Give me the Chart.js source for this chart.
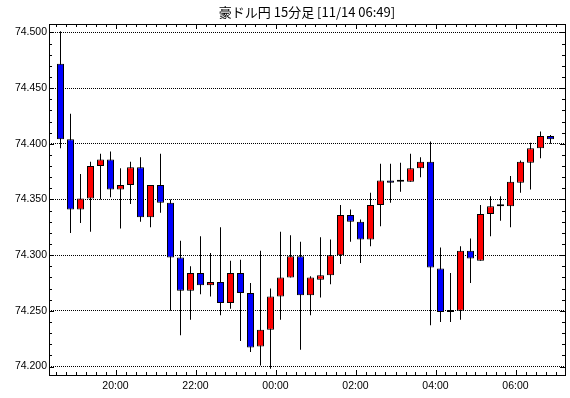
<!DOCTYPE html>
<html><head><meta charset="utf-8">
<script src="https://cdn.jsdelivr.net/npm/chart.js@4"></script>
<style>html,body{margin:0;padding:0;background:#fff;}</style>
</head><body>
<canvas id="c" width="570" height="398"></canvas>
<script>
const chartTitle = '豪ドル円 15分足 [11/14 06:49]';
const times = ['18:30','18:45','19:00','19:15','19:30','19:45','20:00','20:15','20:30','20:45',
  '21:00','21:15','21:30','21:45','22:00','22:15','22:30','22:45','23:00','23:15',
  '23:30','23:45','00:00','00:15','00:30','00:45','01:00','01:15','01:30','01:45',
  '02:00','02:15','02:30','02:45','03:00','03:15','03:30','03:45','04:00','04:15',
  '04:30','04:45','05:00','05:15','05:30','05:45','06:00','06:15','06:30','06:45'];
const openV = [74.472,74.404,74.341,74.351,74.380,74.386,74.359,74.363,74.379,74.334,
  74.363,74.347,74.298,74.268,74.284,74.273,74.276,74.257,74.284,74.266,
  74.218,74.233,74.263,74.280,74.299,74.264,74.278,74.282,74.300,74.336,
  74.330,74.314,74.345,74.367,74.366,74.366,74.378,74.384,74.288,74.250,
  74.250,74.304,74.295,74.337,74.344,74.344,74.365,74.383,74.396,74.407];
const highV = [74.501,74.427,74.373,74.384,74.391,74.393,74.378,74.384,74.388,74.363,
  74.391,74.350,74.313,74.290,74.317,74.302,74.325,74.295,74.296,74.275,
  74.304,74.270,74.321,74.318,74.312,74.281,74.316,74.314,74.345,74.341,
  74.332,74.356,74.382,74.382,74.383,74.391,74.388,74.402,74.307,74.284,
  74.308,74.315,74.345,74.353,74.353,74.371,74.385,74.401,74.411,74.408];
const lowV = [74.396,74.320,74.329,74.321,74.350,74.352,74.324,74.346,74.330,74.325,
  74.338,74.250,74.228,74.242,74.265,74.263,74.246,74.252,74.223,74.213,
  74.201,74.198,74.242,74.280,74.215,74.246,74.262,74.274,74.292,74.312,
  74.293,74.308,74.326,74.347,74.357,74.366,74.370,74.237,74.240,74.240,
  74.242,74.275,74.295,74.317,74.331,74.325,74.356,74.359,74.387,74.400];
const closeV = [74.404,74.341,74.351,74.380,74.386,74.359,74.363,74.379,74.334,74.363,
  74.347,74.298,74.268,74.284,74.273,74.276,74.257,74.284,74.266,74.217,
  74.233,74.263,74.280,74.299,74.264,74.280,74.282,74.300,74.336,74.330,
  74.314,74.345,74.367,74.365,74.366,74.378,74.384,74.289,74.249,74.249,
  74.304,74.297,74.337,74.344,74.344,74.366,74.384,74.396,74.407,74.404];
const xTickLabels = ['20:00','22:00','00:00','02:00','04:00','06:00'];
const yTickValues = [74.200,74.250,74.300,74.350,74.400,74.450,74.500];

const UP = '#FF0000', DOWN = '#0000FF', FLAT = '#000000';
const xTickVals = xTickLabels.map(l => times.indexOf(l) - 0.5);
const bodyData = times.map((t, i) => ({x: i, y: [openV[i], closeV[i]]}));
const wickData = times.map((t, i) => ({x: i, y: [lowV[i], highV[i]]}));
const bodyColor = ctx => {
  const i = ctx.dataIndex;
  if (closeV[i] > openV[i]) return UP;
  if (closeV[i] < openV[i]) return DOWN;
  return FLAT;
};

const framePlugin = {
  id: 'frame',
  afterDatasetsDraw(chart) {
    const {ctx, chartArea: a, scales: {x, y}} = chart;
    ctx.save();
    ctx.strokeStyle = '#000';
    ctx.lineWidth = 1;
    ctx.beginPath();
    for (let i = 0; i <= times.length; i++) {
      const v = i - 0.5;
      const px = Math.round(x.getPixelForValue(v)) + 0.5;
      if (px <= a.left || px >= a.right) continue;
      const major = xTickVals.includes(v);
      const len = major ? 5 : 3;
      ctx.moveTo(px, a.top); ctx.lineTo(px, a.top + len);
      ctx.moveTo(px, a.bottom); ctx.lineTo(px, a.bottom - len);
    }
    for (let k = 0; k <= 30; k++) {
      const v = 74.2 + k * 0.01;
      const py = Math.round(y.getPixelForValue(v)) + 0.5;
      const major = k % 5 === 0;
      const len = major ? 5 : 3;
      ctx.moveTo(a.left, py); ctx.lineTo(a.left + len, py);
      ctx.moveTo(a.right, py); ctx.lineTo(a.right - len, py);
    }
    ctx.stroke();
    ctx.strokeRect(a.left + 0.5, a.top + 0.5, a.right - a.left, a.bottom - a.top);
    ctx.restore();
  }
};

new Chart(document.getElementById('c'), {
  type: 'bar',
  data: {
    datasets: [
      {
        label: 'body', data: bodyData, order: 0, grouped: false,
        barThickness: 7, minBarLength: 2, borderWidth: 1, borderColor: '#000',
        borderSkipped: false, inflateAmount: 0, backgroundColor: bodyColor
      },
      {
        label: 'wick', data: wickData, order: 1, grouped: false,
        barThickness: 1, borderWidth: 0, borderSkipped: false, inflateAmount: 0,
        backgroundColor: '#000'
      }
    ]
  },
  options: {
    responsive: false,
    devicePixelRatio: 1,
    animation: false,
    layout: {padding: {left: 0, right: 5, top: 0, bottom: 0}},
    plugins: {
      legend: {display: false},
      tooltip: {enabled: false},
      title: {
        display: true, text: chartTitle, fullSize: false, color: '#000',
        font: {family: "'Noto Sans CJK JP', sans-serif", size: 13, weight: 'normal', lineHeight: 1.2},
        padding: {top: 4.5, bottom: 3.9}
      }
    },
    scales: {
      x: {
        type: 'linear', min: -1.15, max: 50.45, offset: false,
        afterBuildTicks: s => { s.ticks = xTickVals.map(v => ({value: v})); },
        afterFit: s => { s.height = 23; },
        grid: {display: false, drawTicks: false, offset: false},
        border: {display: false},
        ticks: {
          autoSkip: false, maxRotation: 0, padding: 5, color: '#000',
          font: {family: "'Liberation Sans', Arial, sans-serif", size: 10.5},
          callback: v => { const k = xTickVals.indexOf(v); return k >= 0 ? xTickLabels[k] : ''; }
        }
      },
      y: {
        type: 'linear', min: 74.1924, max: 74.5076,
        afterBuildTicks: s => { s.ticks = yTickValues.map(v => ({value: v})); },
        afterFit: s => { s.width = 49; },
        grid: {color: '#000', lineWidth: 1, drawTicks: false},
        border: {display: false, dash: [1, 1]},
        ticks: {
          padding: 2, color: '#000',
          font: {family: "'Liberation Sans', Arial, sans-serif", size: 10.5},
          callback: v => Number(v).toFixed(3)
        }
      }
    }
  },
  plugins: [framePlugin]
});
</script>
</body></html>
